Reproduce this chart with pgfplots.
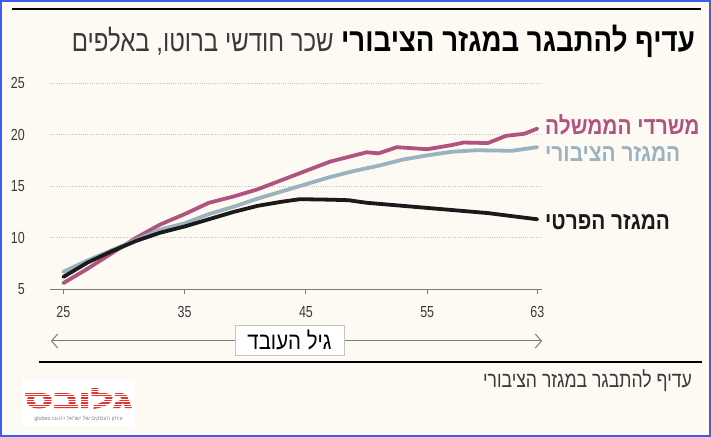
\documentclass[border=0pt]{standalone}
\usepackage{fontspec}
\usepackage{graphicx}
\usepackage{pgfplots}
\pgfplotsset{compat=1.18}
\usetikzlibrary{arrows.meta}
\TeXXeTstate=1
\setmainfont{Liberation Sans}
\newfontfamily\heb[Script=Hebrew]{Liberation Sans}
\newfontfamily\hebheavy[Script=Hebrew,FakeBold=4]{Liberation Sans}
\newfontfamily\hebc[Script=Hebrew,FakeStretch=0.85]{Liberation Sans}
\newfontfamily\hebn[Script=Hebrew,FakeStretch=0.8]{Liberation Sans}
\newfontfamily\tickfont[FakeStretch=0.78]{Liberation Sans}

\definecolor{bg}{HTML}{FDF9F3}
\definecolor{frame}{HTML}{3D5CF0}
\definecolor{govpink}{HTML}{B0547F}
\definecolor{pubblue}{HTML}{9BB2BF}
\definecolor{privblack}{HTML}{1A1A1A}
\definecolor{gridgray}{HTML}{C9C4BE}
\definecolor{axisgray}{HTML}{7A7A7A}
\definecolor{labelgray}{HTML}{3A3A3A}
\definecolor{logored}{HTML}{E8322D}

% monthly gross wage (thousands) by age of worker
\pgfplotstableread{
age wage
25    5.6
27    7.0
29    8.5
31    10.0
33    11.3
35    12.3
37    13.4
39    14.0
41    14.7
43    15.6
45    16.5
47    17.4
49    18.0
50    18.3
51    18.2
52.5  18.8
55    18.6
57    19.0
58    19.25
60    19.2
61.5  19.9
63    20.1
64.07 20.6
}\govt
\pgfplotstableread{
age wage
25    6.7
27    7.8
29    8.8
31    9.8
33    10.8
35    11.4
37    12.3
39    13.0
41    13.8
43    14.5
45    15.2
47    15.9
49    16.5
51    17.0
53    17.6
55    18.0
57    18.35
59    18.5
62    18.45
64.07 18.8
}\public
\pgfplotstableread{
age wage
25    6.2
27    7.6
29    8.7
31    9.7
33    10.5
35    11.1
37    11.8
39    12.5
41    13.1
43    13.5
44.5  13.75
47    13.7
48.5  13.65
50    13.4
52    13.2
55    12.9
58    12.6
60    12.4
62    12.1
64.07 11.8
}\private

\begin{document}
\begin{tikzpicture}
\useasboundingbox (0,0) rectangle (711bp,437bp);
\fill[bg] (0,0) rectangle (711bp,437bp);
\draw[frame, line width=2bp] (1bp,1bp) rectangle (710bp,436bp);

% header rule and title
\draw[black, line width=2.6bp] (12bp,428bp) -- (701bp,428bp);
\node[anchor=east, inner sep=0pt, text=black] (ttl) at (695bp,396bp)
  {\hebc\bfseries\fontsize{32.5bp}{36bp}\selectfont\beginR עדיף להתבגר במגזר הציבורי\endR};
\node[anchor=east, inner sep=0pt, text=labelgray] at ([xshift=-7bp]ttl.east -| ttl.west)
  {\hebn\fontsize{30bp}{34bp}\selectfont\beginR שכר חודשי ברוטו, באלפים\endR};

\begin{axis}[
  at={(50bp,147.7bp)}, anchor=south west,
  scale only axis, width=492bp, height=206bp,
  xmin=23.9, xmax=64.46, ymin=5, ymax=25,
  axis x line*=bottom, axis y line*=left,
  y axis line style={draw=none},
  x axis line style={axisgray, line width=1.2bp, -},
  xtick={25,35,45,55,64.07}, xticklabels={25,35,45,55,63},
  ytick={5,10,15,20,25}, yticklabels={5,10,15,20,25},
  xtick align=outside, major tick length=5bp,
  xtick style={axisgray, line width=1bp},
  ytick style={draw=none},
  ymajorgrids,
  grid style={gridgray, line width=0.9bp, dash pattern=on 1bp off 1.2bp},
  ticklabel style={font=\tickfont\fontsize{16bp}{18bp}\selectfont, text=labelgray, inner sep=0pt},
  yticklabel style={anchor=east, xshift=-25bp},
  xticklabel style={anchor=north, yshift=-12bp},
  clip=false,
  every axis plot/.append style={line width=3.8bp, line join=round, line cap=round},
]
\addplot[govpink] table[x=age, y=wage] {\govt};
\addplot[pubblue] table[x=age, y=wage] {\public};
\addplot[privblack] table[x=age, y=wage] {\private};
\end{axis}

% series labels
\node[anchor=west, inner sep=0pt, text=govpink] at (545bp,312bp)
  {\hebc\bfseries\fontsize{24.5bp}{28bp}\selectfont\beginR משרדי הממשלה\endR};
\node[anchor=west, inner sep=0pt, text=pubblue] at (545bp,283.5bp)
  {\hebc\bfseries\fontsize{24.5bp}{28bp}\selectfont\beginR המגזר הציבורי\endR};
\node[anchor=west, inner sep=0pt, text=privblack] at (545bp,215bp)
  {\hebc\bfseries\fontsize{24.5bp}{28bp}\selectfont\beginR המגזר הפרטי\endR};

% age axis caption with double arrow
\draw[axisgray, line width=1bp, {Straight Barb[length=6bp,width=14bp]}-{Straight Barb[length=6bp,width=14bp]}]
  (51bp,96bp) -- (542bp,96bp);
\node[draw=gridgray, fill=white, line width=0.6bp, minimum width=109bp, minimum height=30bp, inner sep=0pt]
  at (289.5bp,97bp) {\hebc\fontsize{24bp}{28bp}\selectfont\beginR גיל העובד\endR};

% footer
\draw[black, line width=1.5bp] (39bp,75bp) -- (702bp,75bp);
\node[anchor=east, inner sep=0pt, text=labelgray] at (692bp,56bp)
  {\hebn\fontsize{22bp}{26bp}\selectfont\beginR עדיף להתבגר במגזר הציבורי\endR};

% publisher mark
\fill[white] (22bp,10bp) rectangle (135bp,57bp);
\node[inner sep=0pt, text=logored] at (78.5bp,38.5bp)
  {\resizebox{107bp}{19bp}{\hebheavy\bfseries\beginR גלובס\endR}};
\foreach \yy in {30.5,33,...,48} {
  \draw[white, line width=0.8bp] (23bp,\yy bp) -- (134bp,\yy bp);
}
\node[inner sep=0pt, text=gray] at (78.5bp,18bp)
  {\heb\fontsize{5.5bp}{6bp}\selectfont\beginR עיתון העסקים של ישראל • \beginL globes.co.il\endL\endR};
\end{tikzpicture}
\end{document}
